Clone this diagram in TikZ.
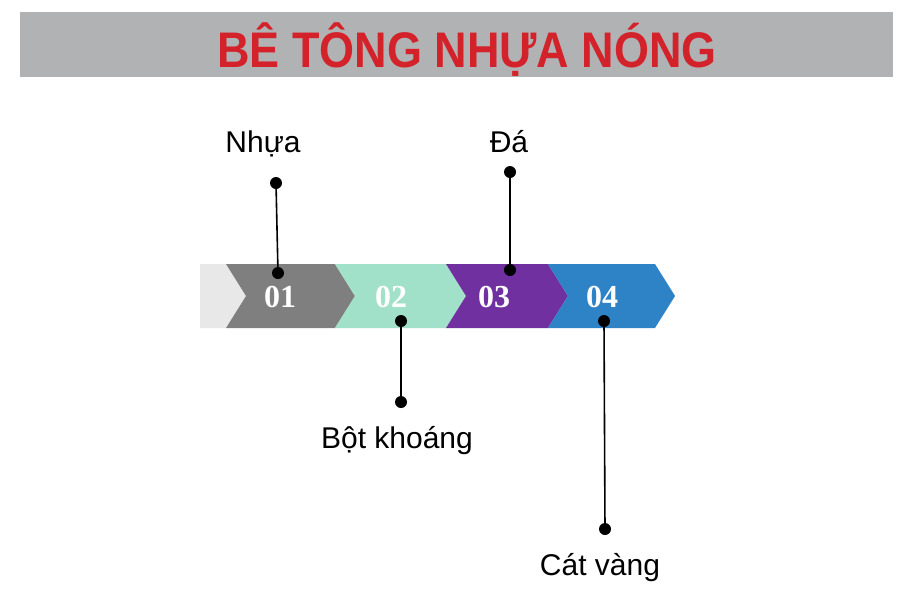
\documentclass[tikz,border=0pt]{standalone}
\usepackage{fontspec}
\setmainfont{Liberation Sans}
\newfontfamily\numfont{Liberation Serif}
\usetikzlibrary{calc}
\definecolor{bannergray}{HTML}{B1B2B4}
\definecolor{titlered}{HTML}{D3222A}
\definecolor{startgray}{HTML}{E8E8E8}
\definecolor{chevgray}{HTML}{7F7F7F}
\definecolor{chevmint}{HTML}{A2E1C9}
\definecolor{chevpurple}{HTML}{7030A0}
\definecolor{chevblue}{HTML}{2E83C6}
\tikzset{%
  gdot/.style={shape=circle,fill=black,inner sep=0,minimum size=12pt},
  lbl/.style={anchor=base,font=\fontsize{30}{30}\selectfont},
  num/.style={anchor=base,text=white,font=\numfont\bfseries\fontsize{32}{32}\selectfont},
  dedge/.style={draw=black,line width=1.6pt}
}

\begin{document}
\begin{tikzpicture}[x=1pt,y=-1pt]
    \useasboundingbox (0,0) rectangle (914,595);
    % banner
    \fill[bannergray] (20,12) rectangle (893,77);
    \node (title)[anchor=base,text=titlered,font=\bfseries\fontsize{50}{50}\selectfont]
      at (467,67) {\scalebox{0.9}[1]{BÊ TÔNG NHỰA NÓNG}};
    % arrow band
    \fill[startgray] (200,264) -- (226,264) -- (246,296) -- (226,328) -- (200,328) -- cycle;
    \foreach \xa/\xb/\col in {226/335/chevgray,335/446/chevmint,446/548/chevpurple,548/655/chevblue}
      \fill[\col] (\xa,264) -- (\xb,264) -- (\xb+20,296) -- (\xb,328) -- (\xa,328) -- (\xa+20,296) -- cycle;
    \path
      (280,307) node (n1)[num]{01}
      (391,307) node (n2)[num]{02}
      (494,307) node (n3)[num]{03}
      (602,307) node (n4)[num]{04};
    % dots and labels
    \path
      (276,183) node (a1)[gdot]{}
      (278,273) node (b1)[gdot]{}
      (263,152) node (l1)[lbl]{Nhựa}
      (401,321) node (a2)[gdot]{}
      (401,402) node (b2)[gdot]{}
      (397,448) node (l2)[lbl]{Bột khoáng}
      (510,172) node (a3)[gdot]{}
      (510,270) node (b3)[gdot]{}
      (509,152) node (l3)[lbl]{Đá}
      (604,321) node (a4)[gdot]{}
      (605,529) node (b4)[gdot]{}
      (600,575) node (l4)[lbl]{Cát vàng};
    \draw[dedge] (a1) -- (b1);
    \draw[dedge] (a2) -- (b2);
    \draw[dedge] (a3) -- (b3);
    \draw[dedge] (a4) -- (b4);
  \end{tikzpicture}
\end{document}
